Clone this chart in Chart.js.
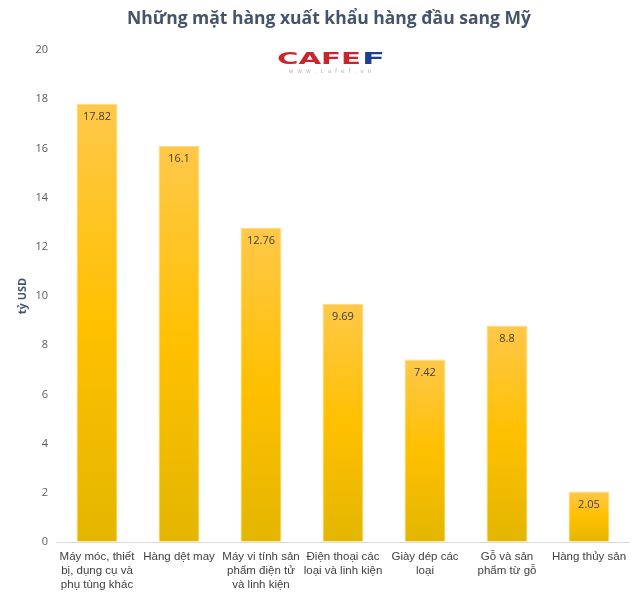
<!DOCTYPE html>
<html><head><meta charset="utf-8">
<script src="https://cdn.jsdelivr.net/npm/chart.js@4/dist/chart.umd.min.js"></script>
<style>html,body{margin:0;padding:0;background:#fff}#wrap{width:640px;height:597px;position:relative}</style>
</head><body><div id="wrap"><canvas id="c" width="640" height="597"></canvas></div>
<script>
const categories = [
  ["Máy móc, thiết", "bị, dụng cụ và", "phụ tùng khác"],
  ["Hàng dệt may"],
  ["Máy vi tính sản", "phẩm điện tử", "và linh kiện"],
  ["Điện thoại các", "loại và linh kiện"],
  ["Giày dép các", "loại"],
  ["Gỗ và sản", "phẩm từ gỗ"],
  ["Hàng thủy sản"]
];
const values = [17.82, 16.1, 12.76, 9.69, 7.42, 8.8, 2.05];
const valueLabels = ["17.82", "16.1", "12.76", "9.69", "7.42", "8.8", "2.05"];
const yTicks = [0, 2, 4, 6, 8, 10, 12, 14, 16, 18, 20];
const chartTitle = "Những mặt hàng xuất khẩu hàng đầu sang Mỹ";
const yTitle = "tỷ USD";

function drawStretched(ctx, text, x, y, w, color, font) {
  ctx.save();
  ctx.font = font;
  const m = ctx.measureText(text);
  ctx.translate(x, y);
  ctx.scale(w / m.width, 1);
  ctx.fillStyle = color;
  ctx.textAlign = 'left';
  ctx.textBaseline = 'alphabetic';
  ctx.fillText(text, 0, 0);
  ctx.restore();
}

const overlay = {
  id: 'overlay',
  afterDatasetsDraw(chart) {
    const ctx = chart.ctx;
    const meta = chart.getDatasetMeta(0);
    ctx.save();
    ctx.fillStyle = '#404040';
    ctx.font = '11px "Open Sans", sans-serif';
    ctx.textAlign = 'center';
    ctx.textBaseline = 'middle';
    meta.data.forEach((bar, i) => {
      ctx.fillText(valueLabels[i], bar.x, bar.y + 13);
    });
    ctx.restore();
  },
  afterDraw(chart) {
    const ctx = chart.ctx;
    ctx.save();
    ctx.fillStyle = '#44546A';
    ctx.font = 'bold 17.5px "Open Sans", sans-serif';
    ctx.textAlign = 'center';
    ctx.textBaseline = 'middle';
    ctx.fillText(chartTitle, 329, 19);
    ctx.restore();
    const lf = '900 16px "DejaVu Sans", sans-serif';
    drawStretched(ctx, 'CAFE', 277, 64, 84, '#C9252C', lf);
    drawStretched(ctx, 'F', 362, 64, 23, '#1E3F8F', lf);
    ctx.save();
    ctx.fillStyle = '#B8B8B8';
    ctx.font = '6px "DejaVu Sans", sans-serif';
    ctx.textAlign = 'center';
    ctx.textBaseline = 'middle';
    ctx.fillText('w  w  w  .  c  a  f  e  f  .  v  n', 330, 71);
    ctx.restore();
  }
};

new Chart(document.getElementById('c'), {
  type: 'bar',
  data: {
    labels: categories,
    datasets: [{
      data: values,
      backgroundColor(context) {
        const chart = context.chart;
        const y = chart.scales.y;
        if (!y || context.raw === undefined) return '#FFC000';
        const top = y.getPixelForValue(context.raw);
        const bot = y.getPixelForValue(0);
        if (!isFinite(top) || !isFinite(bot) || top === bot) return '#FFC000';
        const g = chart.ctx.createLinearGradient(0, top, 0, bot);
        g.addColorStop(0, '#FFC84A');
        g.addColorStop(0.5, '#FFC000');
        g.addColorStop(1, '#E3B600');
        return g;
      },
      borderColor: 'rgba(255,215,110,0.9)',
      borderWidth: 1,
      barPercentage: 0.5,
      categoryPercentage: 1.0
    }]
  },
  options: {
    responsive: false,
    animation: false,
    devicePixelRatio: 1,
    layout: { padding: { top: 50, right: 10, bottom: 0, left: 0 } },
    plugins: { legend: { display: false }, tooltip: { enabled: false }, title: { display: false } },
    scales: {
      x: {
        grid: { display: false },
        border: { display: false },
        ticks: {
          color: '#404040',
          font: { family: '"Liberation Sans", Arial, sans-serif', size: 11.5, lineHeight: 1.22 },
          maxRotation: 0, minRotation: 0, autoSkip: false, padding: 0
        },
        afterFit(scale) { scale.height = 55; }
      },
      y: {
        min: 0, max: 20,
        afterBuildTicks(scale) { scale.ticks = yTicks.map(v => ({ value: v })); },
        grid: {
          drawTicks: false,
          color(ctx) { return ctx.tick && ctx.tick.value === 0 ? '#D9D9D9' : 'rgba(0,0,0,0)'; },
          lineWidth: 1
        },
        border: { display: false },
        ticks: {
          color: '#595959',
          font: { family: '"Open Sans", sans-serif', size: 11 },
          padding: 8
        },
        title: {
          display: true, text: yTitle, color: '#44546A',
          font: { family: '"Open Sans", sans-serif', size: 11, weight: 'bold' },
          padding: { top: 16, bottom: 0 }
        },
        afterFit(scale) { scale.width = 56; }
      }
    }
  },
  plugins: [overlay]
});
</script></body></html>
